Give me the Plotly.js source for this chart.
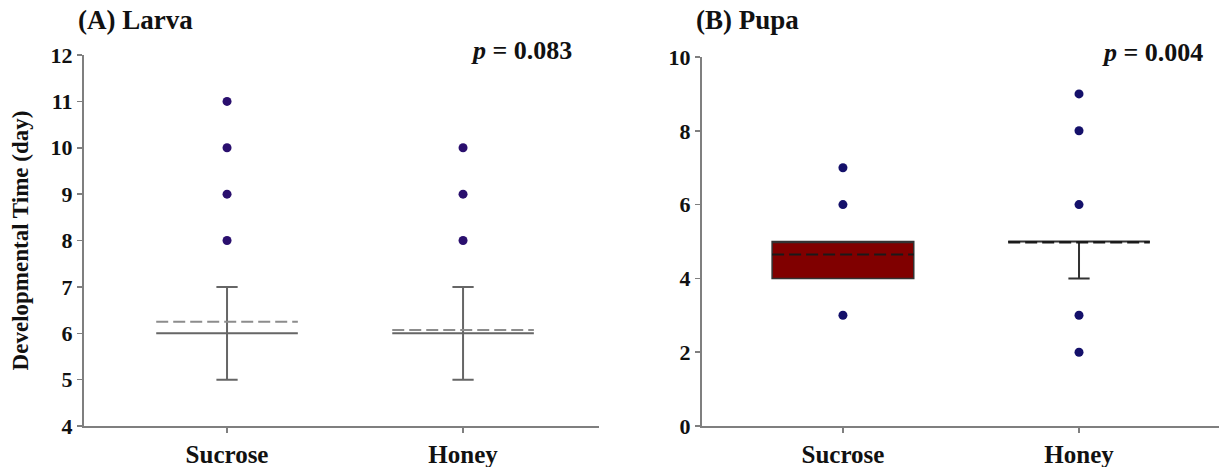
<!DOCTYPE html>
<html>
<head>
<meta charset="utf-8">
<script src="https://cdn.plot.ly/plotly-3.0.1.min.js"></script>
<style>html,body{margin:0;padding:0;background:#fff}#chart{width:1219px;height:467px}</style>
</head>
<body>
<div id="chart"></div>
<script>
// ---- data ----
const categories = ['Sucrose', 'Honey'];
const yTitle = 'Developmental Time (day)';
const panelTitles = ['(A) Larva', '(B) Pupa'];
const pValues = ['0.083', '0.004'];

// Larva statistics (Sucrose, Honey)
const larvaQ1 = [6, 6];
const larvaMedian = [6, 6];
const larvaQ3 = [6, 6];
const larvaLower = [5, 5];
const larvaUpper = [7, 7];
const larvaMean = [6.25, 6.07];
const larvaOutSucrose = [8, 9, 10, 11];
const larvaOutHoney = [8, 9, 10];

// Pupa statistics (Sucrose, Honey)
const pupaQ1 = [4, 5];
const pupaMedian = [5, 5];
const pupaQ3 = [5, 5];
const pupaLower = [4, 4];
const pupaUpper = [5, 5];
const pupaMean = [4.65, 4.98];
const pupaOutSucrose = [3, 6, 7];
const pupaOutHoney = [2, 3, 6, 8, 9];

// ---- styles ----
const serif = '"Liberation Serif", "Times New Roman", serif';
const axisGray = '#7f7f7f';
const BOXW = 0.6;

function boxTrace(i, q1, med, q3, lo, hi, xa, ya, lineColor, fill, lw) {
  return {
    type: 'box', x: [categories[i]], q1: [q1[i]], median: [med[i]], q3: [q3[i]],
    lowerfence: [lo[i]], upperfence: [hi[i]], boxmean: false,
    boxpoints: false, width: BOXW, whiskerwidth: 0.15,
    line: {color: lineColor, width: lw}, fillcolor: fill,
    xaxis: xa, yaxis: ya, hoverinfo: 'skip'
  };
}
function dots(cat, vals, xa, ya, color) {
  return {
    type: 'scatter', mode: 'markers', x: vals.map(() => cat), y: vals,
    marker: {color: color, size: 9}, xaxis: xa, yaxis: ya, hoverinfo: 'skip'
  };
}
// dashed mean line across the box (category index -> axis position)
function meanLine(i, mean, xa, ya, color, lw) {
  return {type: 'line', xref: xa, yref: ya, x0: i - BOXW / 2, x1: i + BOXW / 2,
    y0: mean[i], y1: mean[i], line: {color: color, width: lw, dash: '12px,5px'}, layer: 'above'};
}

const traces = [
  boxTrace(0, larvaQ1, larvaMedian, larvaQ3, larvaLower, larvaUpper, 'x', 'y', '#666666', 'rgba(0,0,0,0)', 2),
  boxTrace(1, larvaQ1, larvaMedian, larvaQ3, larvaLower, larvaUpper, 'x', 'y', '#666666', 'rgba(0,0,0,0)', 2),
  dots(categories[0], larvaOutSucrose, 'x', 'y', '#2a0f6e'),
  dots(categories[1], larvaOutHoney, 'x', 'y', '#2a0f6e'),
  boxTrace(0, pupaQ1, pupaMedian, pupaQ3, pupaLower, pupaUpper, 'x2', 'y2', '#333333', '#800000', 1.5),
  boxTrace(1, pupaQ1, pupaMedian, pupaQ3, pupaLower, pupaUpper, 'x2', 'y2', '#333333', 'rgba(0,0,0,0)', 2),
  dots(categories[0], pupaOutSucrose, 'x2', 'y2', '#14106a'),
  dots(categories[1], pupaOutHoney, 'x2', 'y2', '#14106a')
];

const W = 1219, H = 467;
const tickFontY = {family: serif, size: 22, color: '#111', weight: 'bold'};
const tickFontX = {family: serif, size: 25, color: '#111', weight: 'bold'};
const common = {showline: true, linecolor: axisGray, linewidth: 2, ticks: 'outside',
  tickcolor: axisGray, ticklen: 5, tickwidth: 1.5, showgrid: false, zeroline: false, fixedrange: true};

const layout = {
  width: W, height: H, margin: {l: 0, r: 0, t: 0, b: 0},
  paper_bgcolor: '#fff', plot_bgcolor: '#fff', showlegend: false, boxmode: 'overlay',
  hovermode: false,
  xaxis: Object.assign({}, common, {type: 'category', categoryorder: 'array', categoryarray: categories,
    domain: [84 / W, 599 / W], range: [-0.606, 1.576], tickfont: tickFontX, anchor: 'y'}),
  yaxis: Object.assign({}, common, {domain: [(H - 426) / H, (H - 55) / H], range: [4, 12], dtick: 1,
    tickfont: tickFontY, anchor: 'x',
    title: {text: yTitle, font: {family: serif, size: 23, color: '#111', weight: 'bold'}, standoff: 16}}),
  xaxis2: Object.assign({}, common, {type: 'category', categoryorder: 'array', categoryarray: categories,
    domain: [702 / W, 1], range: [-0.597, 1.593], tickfont: tickFontX, anchor: 'y2'}),
  yaxis2: Object.assign({}, common, {domain: [(H - 426) / H, (H - 57) / H], range: [0, 10], dtick: 2,
    tickfont: tickFontY, anchor: 'x2'}),
  shapes: [
    meanLine(0, larvaMean, 'x', 'y', '#8c8c8c', 2),
    meanLine(1, larvaMean, 'x', 'y', '#8c8c8c', 2),
    meanLine(0, pupaMean, 'x2', 'y2', '#1a1a1a', 2),
    meanLine(1, pupaMean, 'x2', 'y2', '#1a1a1a', 2.5)
  ],
  annotations: [
    {text: '<b>' + panelTitles[0] + '</b>', xref: 'paper', yref: 'paper', x: 76 / W, y: 1 - 20 / H,
     xanchor: 'left', yanchor: 'middle', showarrow: false, font: {family: serif, size: 27, color: '#111'}},
    {text: '<b>' + panelTitles[1] + '</b>', xref: 'paper', yref: 'paper', x: 694 / W, y: 1 - 20 / H,
     xanchor: 'left', yanchor: 'middle', showarrow: false, font: {family: serif, size: 27, color: '#111'}},
    {text: '<b><i>p</i> = ' + pValues[0] + '</b>', xref: 'paper', yref: 'paper', x: 574 / W, y: 1 - 50 / H,
     xanchor: 'right', yanchor: 'middle', showarrow: false, font: {family: serif, size: 26, color: '#111'}},
    {text: '<b><i>p</i> = ' + pValues[1] + '</b>', xref: 'paper', yref: 'paper', x: 1205 / W, y: 1 - 53 / H,
     xanchor: 'right', yanchor: 'middle', showarrow: false, font: {family: serif, size: 26, color: '#111'}}
  ]
};

Plotly.newPlot('chart', traces, layout, {displayModeBar: false, staticPlot: true});
</script>
</body>
</html>
